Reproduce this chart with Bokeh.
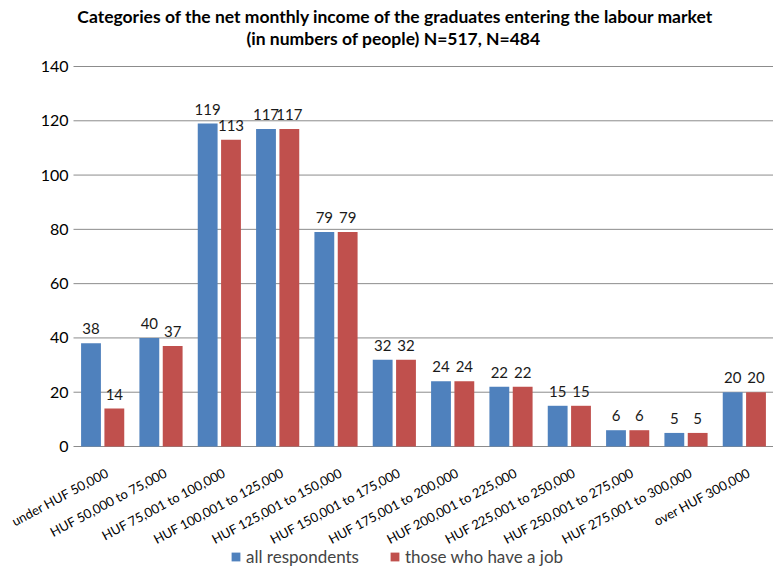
from bokeh.plotting import figure
from bokeh.models import ColumnDataSource, Range1d, Legend, LegendItem
from bokeh.transform import dodge
from bokeh.core.properties import value
from bokeh.embed import file_html
from bokeh.resources import INLINE

categories = ["under HUF 50,000", "HUF 50,000 to 75,000", "HUF 75,001 to 100,000",
              "HUF 100,001 to 125,000", "HUF 125,001 to 150,000", "HUF 150,001 to 175,000",
              "HUF 175,001 to 200,000", "HUF 200,001 to 225,000", "HUF 225,001 to 250,000",
              "HUF 250,001 to 275,000", "HUF 275,001 to 300,000", "over HUF 300,000"]
all_respondents = [38, 40, 119, 117, 79, 32, 24, 22, 15, 6, 5, 20]
have_job = [14, 37, 113, 117, 79, 32, 24, 22, 15, 6, 5, 20]
series_names = ["all respondents", "those who have a job"]
title_lines = ["Categories of the net monthly income of the graduates entering the labour market",
               "(in numbers of people) N=517, N=484"]
y_ticks = [0, 20, 40, 60, 80, 100, 120, 140]

FONT = "Lato"
BLUE = "#4F81BD"
RED = "#C0504D"
GRID = "#8c8c8c"

N = len(categories)
Y_MAX = 140
W, H = 773, 567        # page size in pixels
PLOT_W = 700           # pixels for the category area
PLOT_H = 380           # pixels from 0 to Y_MAX
LEFT_SPACE = 73        # pixels left of the category area (value labels)
TOP_SPACE = 66         # pixels above the Y_MAX line (title)
BOTTOM_SPACE = H - TOP_SPACE - PLOT_H
x_min = -LEFT_SPACE * N / PLOT_W
x_max = N
y_min = -BOTTOM_SPACE * Y_MAX / PLOT_H
y_max = Y_MAX + TOP_SPACE * Y_MAX / PLOT_H


def sx(px):  # canvas pixel -> data x
    return x_min + px * (x_max - x_min) / W


def sy(py):  # canvas pixel (from top) -> data y
    return y_max - py * (y_max - y_min) / H


xs = [i + 0.5 for i in range(N)]
src = ColumnDataSource(dict(x=xs, a=all_respondents, b=have_job, zero=[0] * N,
                            cat=categories,
                            at=[str(v) for v in all_respondents],
                            bt=[str(v) for v in have_job]))
ysrc = ColumnDataSource(dict(y=y_ticks, x0=[0] * len(y_ticks), x1=[N] * len(y_ticks),
                             lab=[str(t) for t in y_ticks]))

p = figure(frame_width=W, frame_height=H,
           output_backend="svg", toolbar_location=None,
           x_axis_location=None, y_axis_location=None,
           x_range=Range1d(x_min, x_max), y_range=Range1d(y_min, y_max),
           min_border_left=0, min_border_right=0, min_border_top=0, min_border_bottom=0)
p.outline_line_color = None
p.background_fill_color = "white"
p.border_fill_color = "white"
p.grid.visible = False

# horizontal grid lines (value ticks); the zero line doubles as the category axis
p.segment(x0="x0", x1="x1", y0="y", y1="y", source=ysrc, line_color=GRID, line_width=1)
p.text(x="x0", y="y", text="lab", source=ysrc, x_offset=-5,
       text_align="right", text_baseline="middle",
       text_font=value(FONT), text_font_size="16px", text_color="#000000")

rb = p.vbar(x=dodge("x", -0.2, range=p.x_range), top="a", bottom=0, width=0.34, source=src,
            fill_color=BLUE, line_color=None)
rr = p.vbar(x=dodge("x", 0.2, range=p.x_range), top="b", bottom=0, width=0.34, source=src,
            fill_color=RED, line_color=None)

p.text(x=dodge("x", -0.2, range=p.x_range), y="a", text="at", source=src,
       text_align="center", text_baseline="bottom", y_offset=-9,
       text_font=value(FONT), text_font_size="15px", text_color="#1a1a1a")
p.text(x=dodge("x", 0.2, range=p.x_range), y="b", text="bt", source=src,
       text_align="center", text_baseline="bottom", y_offset=-9,
       text_font=value(FONT), text_font_size="15px", text_color="#1a1a1a")

# category labels, rotated, right end at the category centre
p.text(x="x", y="zero", text="cat", source=src, angle=0.49,
       text_align="right", text_baseline="top", x_offset=1, y_offset=18,
       text_font=value(FONT), text_font_size="13px", text_color="#000000")

# two-line title
tsrc = ColumnDataSource(dict(x=[sx(395), sx(393)], y=[sy(16), sy(38)], t=title_lines))
p.text(x="x", y="y", text="t", source=tsrc, text_align="center", text_baseline="middle",
       text_font=value(FONT), text_font_style="bold", text_font_size="17.5px",
       text_color="#000000")

legend = Legend(items=[LegendItem(label=series_names[0], renderers=[rb]),
                       LegendItem(label=series_names[1], renderers=[rr])],
                orientation="horizontal", location=(230, 0),
                label_text_font=FONT, label_text_font_size="17px",
                glyph_width=11, glyph_height=11, spacing=30, label_standoff=5,
                border_line_color=None, background_fill_alpha=0, padding=0, margin=0)
p.add_layout(legend, "center")

open("out.html", "w").write(file_html(p, INLINE))
